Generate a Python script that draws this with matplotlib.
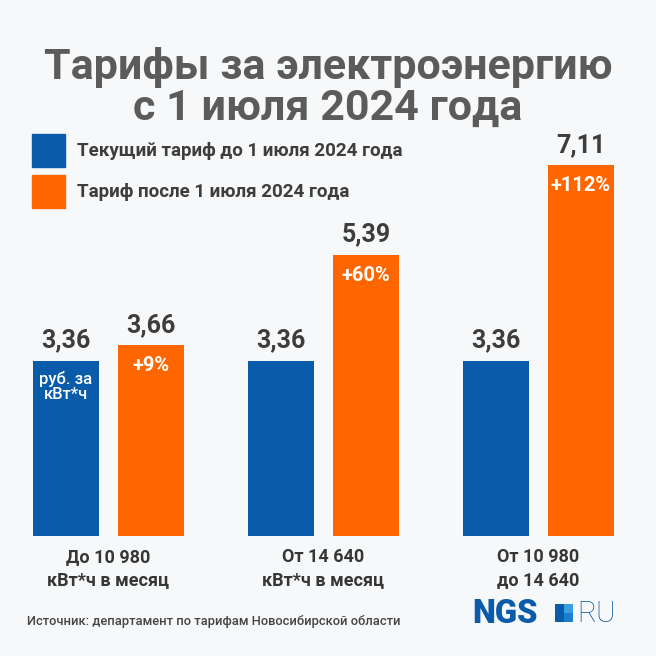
import matplotlib
matplotlib.use("Agg")
import matplotlib.pyplot as plt
from matplotlib.patches import Rectangle
import numpy as np

# ---- data ----
categories = ["До 10 980\nкВт*ч в месяц", "От 14 640\nкВт*ч в месяц", "От 10 980\nдо 14 640"]
current = [3.36, 3.36, 3.36]
after = [3.66, 5.39, 7.11]
current_labels = ["3,36", "3,36", "3,36"]
after_labels = ["3,66", "5,39", "7,11"]
pct_labels = ["+9%", "+60%", "+112%"]
legend_labels = ["Текущий тариф до 1 июля 2024 года", "Тариф после 1 июля 2024 года"]
title = "Тарифы за электроэнергию\nс 1 июля 2024 года"
source = "Источник: департамент по тарифам Новосибирской области"

BLUE = "#0a5cab"
ORANGE = "#ff6600"
BG = "#f6f8f9"
DARK = "#3d3d3d"

plt.rcParams['font.family'] = ['Roboto', 'DejaVu Sans']

W = H = 656
fig = plt.figure(figsize=(6.56, 6.56), dpi=100, facecolor=BG)

# bar axes: bottom at y=536 px from top
ax_bottom = (H - 536) / H
ax = fig.add_axes([0, ax_bottom, 1, 536 / H])
ax.set_facecolor("none")
px_per_unit = 52.2
ax.set_ylim(0, 536 / px_per_unit)
spacing_px = 215.0
ax.set_xlim(-108.5 / spacing_px, (W - 108.5) / spacing_px)
ax.axis("off")

x = np.arange(len(categories))
bw = 66 / spacing_px
off = 42.5 / spacing_px
ax.bar(x - off, current, bw, color=BLUE)
ax.bar(x + off, after, bw, color=ORANGE)

u = 1 / px_per_unit  # one pixel in data units
for i in range(len(categories)):
    ax.text(x[i] - off, current[i] + 8 * u, current_labels[i], ha="center", va="bottom",
            fontsize=18, fontweight="bold", color=DARK)
    ax.text(x[i] + off, after[i] + 8 * u, after_labels[i], ha="center", va="bottom",
            fontsize=18, fontweight="bold", color=DARK)
    ax.text(x[i] + off, after[i] - 11 * u, pct_labels[i], ha="center", va="top",
            fontsize=14.5, fontweight="bold", color="white")
    ax.text(x[i], -12 * u, categories[i], ha="center", va="top", fontsize=13,
            fontweight="bold", color="#363636", linespacing=1.35)

ax.text(x[0] - off, current[0] - 10 * u, "руб. за\nкВт*ч", ha="center", va="top",
        fontsize=12, fontweight="medium", color="white", linespacing=1.05)

# title
fig.text(0.5, 1 - 88 / H, title, ha="center", va="center", fontsize=31,
         fontweight="bold", color="#5b5b5b", linespacing=1.0)

# legend
colors = [BLUE, ORANGE]
for k, (lab, c) in enumerate(zip(legend_labels, colors)):
    y_top = 134 + k * 40.5
    fig.patches.append(Rectangle((32 / W, 1 - (y_top + 33) / H), 33 / W, 33 / H,
                                 transform=fig.transFigure, color=c))
    fig.text(77 / W, 1 - (y_top + 17) / H, lab, ha="left", va="center",
             fontsize=13.5, fontweight="bold", color=DARK)

# source
fig.text(27 / W, 1 - 622 / H, source, ha="left", va="center", fontsize=9.3,
         fontweight="medium", color="#444444")

# logo
fig.text(472 / W, 1 - 614 / H, "NGS", ha="left", va="center", fontsize=23.5,
         fontweight="black", color=BLUE)
sq = 18
sx, sy = 555, 604
quad_colors = ["#0a5cab", "#3a9ee0", "#0a5cab", "#1a7fd0"]
for qi, (dx, dy) in enumerate([(0, 0), (1, 0), (0, 1), (1, 1)]):
    fig.patches.append(Rectangle(((sx + dx * sq / 2) / W, 1 - (sy + (dy + 1) * sq / 2) / H),
                                 sq / 2 / W, sq / 2 / H, transform=fig.transFigure,
                                 color=quad_colors[qi], lw=0))
fig.text(577 / W, 1 - 614 / H, "RU", ha="left", va="center", fontsize=21,
         fontweight="light", color=BLUE)

fig.savefig("out.png", dpi=100, facecolor=BG)
